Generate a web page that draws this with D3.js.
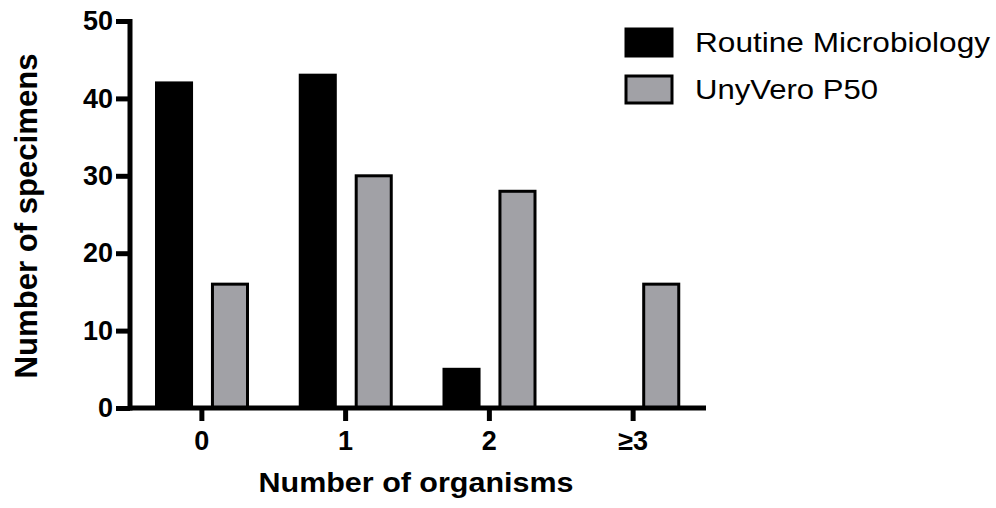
<!DOCTYPE html>
<html>
<head>
<meta charset="utf-8">
<script src="https://cdn.jsdelivr.net/npm/d3@7"></script>
<style>
  body { margin: 0; background: #fff; }
  svg { font-family: "Liberation Sans", Arial, sans-serif; }
</style>
</head>
<body>
<div id="chart"></div>
<script>
// DATA
const categories = ["0", "1", "2", "\u22653"];
const seriesNames = ["Routine Microbiology", "UnyVero P50"];
const routine = [42, 43, 5, 0];
const unyvero = [16, 30, 28, 16];
const yTicks = [0, 10, 20, 30, 40, 50];

const W = 996, H = 508;
const colors = ["#000000", "#a1a1a6"];

const svg = d3.select("#chart").append("svg")
  .attr("width", W)
  .attr("height", H);

// SCALES
const x = d3.scaleBand().domain(categories).range([130, 705]).padding(0);
const xSub = d3.scaleBand().domain(seriesNames).range([25, 119]).paddingInner(0.32);
const y = d3.scaleLinear().domain([0, 50]).range([408, 21]);

const rows = categories.map((c, i) => ({ cat: c, vals: [routine[i], unyvero[i]] }));

// BARS
const groups = svg.selectAll("g.cat")
  .data(rows)
  .enter()
  .append("g")
  .attr("class", "cat")
  .attr("transform", d => `translate(${x(d.cat)},0)`);

groups.selectAll("rect")
  .data(d => d.vals.map((v, i) => ({ name: seriesNames[i], v: v, i: i })).filter(d => d.v > 0))
  .enter()
  .append("rect")
  .attr("x", d => xSub(d.name) + 1.5)
  .attr("width", xSub.bandwidth() - 3)
  .attr("y", d => y(d.v))
  .attr("height", d => y(0) - y(d.v))
  .style("fill", d => colors[d.i])
  .style("stroke", "#000")
  .style("stroke-width", 3);

// AXES
const yAxis = svg.append("g")
  .attr("transform", "translate(130,0)")
  .call(d3.axisLeft(y).tickValues(yTicks).tickSize(14).tickSizeOuter(0).tickPadding(3));

const xAxis = svg.append("g")
  .attr("transform", `translate(0,${y(0)})`)
  .call(d3.axisBottom(x).tickSize(13).tickSizeOuter(0).tickPadding(10));

[yAxis, xAxis].forEach(a => {
  a.selectAll("path, line").style("stroke", "#000").style("stroke-width", 5);
  a.selectAll("text")
    .style("font-size", "27px")
    .style("font-weight", "bold")
    .style("fill", "#000");
});
yAxis.select(".domain").attr("d", `M0,${y(50) - 2}V${y(0) + 2.5}`);
xAxis.select(".domain").attr("d", "M128,0H706");

// AXIS TITLES
svg.append("text")
  .attr("text-anchor", "middle")
  .attr("x", 416)
  .attr("y", 492)
  .attr("textLength", 315)
  .attr("lengthAdjust", "spacingAndGlyphs")
  .style("font-size", "27px")
  .style("font-weight", "bold")
  .text("Number of organisms");

svg.append("text")
  .attr("text-anchor", "middle")
  .attr("transform", "translate(37,216) rotate(-90)")
  .attr("textLength", 325)
  .attr("lengthAdjust", "spacingAndGlyphs")
  .style("font-size", "31px")
  .style("font-weight", "bold")
  .text("Number of specimens");

// LEGEND
const legend = svg.selectAll("g.legend")
  .data(seriesNames)
  .enter()
  .append("g")
  .attr("class", "legend")
  .attr("transform", (d, i) => `translate(626,${29 + i * 47})`);

legend.append("rect")
  .attr("width", 46)
  .attr("height", 27)
  .style("fill", (d, i) => colors[i])
  .style("stroke", "#000")
  .style("stroke-width", 3);

legend.append("text")
  .attr("x", 69)
  .attr("y", 23)
  .attr("textLength", (d, i) => [295, 183][i])
  .attr("lengthAdjust", "spacingAndGlyphs")
  .style("font-size", "28px")
  .text(d => d);
</script>
</body>
</html>
